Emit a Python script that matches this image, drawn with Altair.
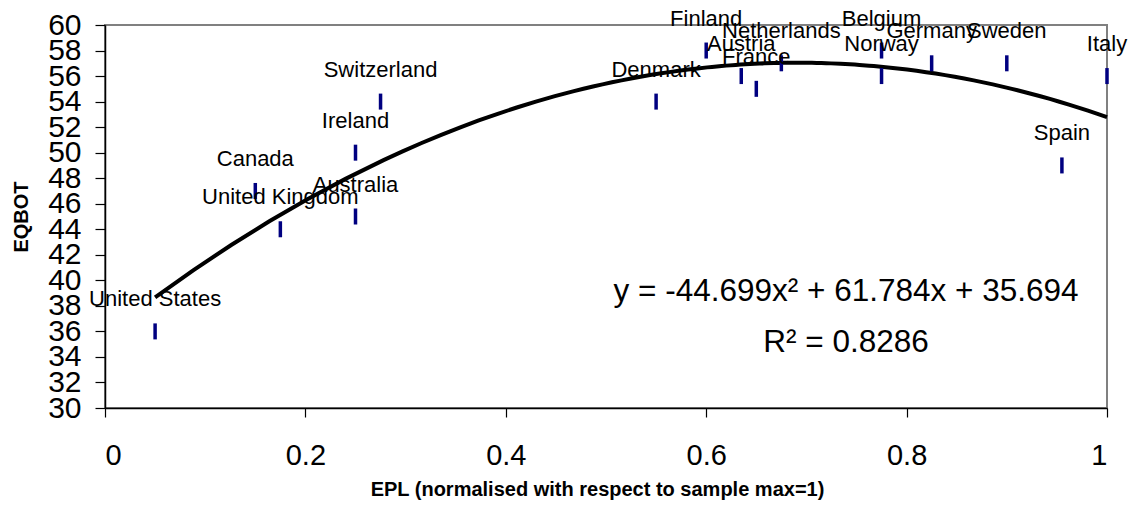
import altair as alt
import pandas as pd

countries = ["United States", "Canada", "United Kingdom", "Ireland", "Australia",
             "Switzerland", "Denmark", "Finland", "Austria", "France", "Netherlands",
             "Norway", "Belgium", "Germany", "Sweden", "Italy", "Spain"]
epl = [0.05, 0.15, 0.175, 0.25, 0.25, 0.275, 0.55, 0.60, 0.635, 0.65, 0.675,
       0.775, 0.775, 0.825, 0.90, 1.0, 0.955]
eqbot = [36, 47, 44, 50, 45, 54, 54, 58, 56, 55, 57, 56, 58, 57, 57, 56, 49]

x_ticks = [0, 0.2, 0.4, 0.6, 0.8, 1.0]
y_ticks = list(range(30, 61, 2))
eq_line1 = "y = -44.699x\u00b2 + 61.784x + 35.694"
eq_line2 = "R\u00b2 = 0.8286"

FONT = "Liberation Sans"

df = pd.DataFrame({"country": countries, "epl": epl, "eqbot": eqbot})

X = alt.X("epl:Q", scale=alt.Scale(domain=[0, 1], nice=False, zero=False),
          axis=alt.Axis(values=x_ticks, format="~g", title="EPL (normalised with respect to sample max=1)",
                        tickSize=9, labelPadding=24, titleY=87, titleX=492,
                        titleBaseline="alphabetic", labelFontSize=29))
Y = alt.Y("eqbot:Q", scale=alt.Scale(domain=[30, 60], nice=False, zero=False),
          axis=alt.Axis(values=y_ticks, format="d", title="EQBOT", tickSize=10,
                        labelPadding=14, titleX=-84, titleBaseline="middle",
                        labelFontSize=30, labelOverlap=False))

base = alt.Chart(df)

curve = base.transform_regression("epl", "eqbot", method="poly", order=2).mark_line(
    color="black", strokeWidth=4).encode(x=X, y=Y)

ticks = base.mark_tick(orient="vertical", color="#000080", size=16, thickness=3.5,
                       opacity=1).encode(x=X, y=Y)

labels = base.mark_text(dy=-32, fontSize=22, font=FONT, color="black", baseline="middle").encode(
    x=X, y=Y, text="country:N")

eq1 = alt.Chart(pd.DataFrame({"t": [eq_line1]})).mark_text(
    fontSize=31.5, font=FONT, color="black", align="center", baseline="middle").encode(
    x=alt.value(741), y=alt.value(267), text="t:N")
eq2 = alt.Chart(pd.DataFrame({"t": [eq_line2]})).mark_text(
    fontSize=31.5, font=FONT, color="black", align="center", baseline="middle").encode(
    x=alt.value(741), y=alt.value(318), text="t:N")

chart = alt.layer(curve, ticks, labels, eq1, eq2).properties(
    width=1002, height=383,
    autosize=alt.AutoSizeParams(type="none"),
    padding={"left": 105, "top": 25, "right": 25, "bottom": 105},
    background="white",
).configure_view(stroke="#808080", strokeWidth=2).configure_axis(
    grid=False, domainColor="black", domainWidth=1.5, tickColor="black", tickWidth=1.2,
    labelFont=FONT, labelColor="black",
    titleFont=FONT, titleFontSize=20, titleFontWeight="bold", titleColor="black",
)

chart.save("out.html", embed_options={"renderer": "svg", "actions": False})
